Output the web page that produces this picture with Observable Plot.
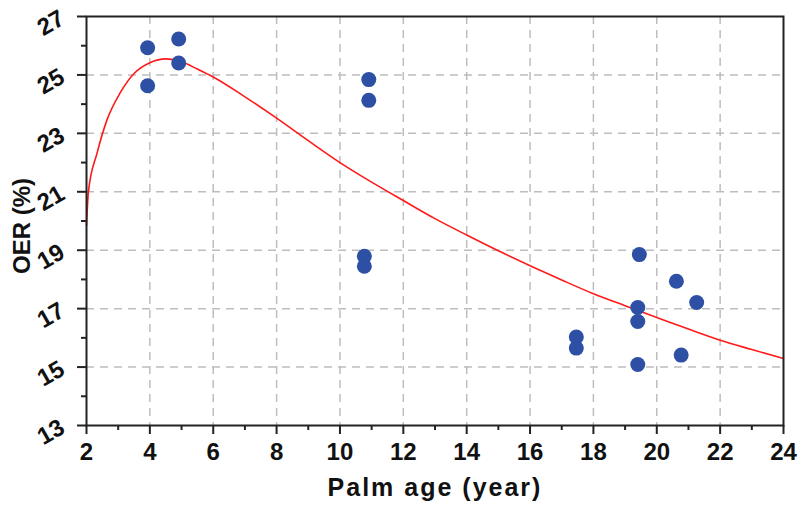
<!DOCTYPE html>
<html><head><meta charset="utf-8">
<script src="https://cdn.jsdelivr.net/npm/d3@7"></script>
<script src="https://cdn.jsdelivr.net/npm/@observablehq/plot@0.6"></script>
<style>body{margin:0;background:#fff}</style>
</head><body><div id="chart"></div>
<script>
// Observed points
const ageX = [3.93, 3.93, 4.91, 4.91, 10.91, 10.91, 10.77, 10.77, 17.46, 17.46, 19.45, 19.40, 19.40, 19.40, 20.62, 21.26, 20.77];
const oerY = [25.93, 24.63, 26.23, 25.41, 24.84, 24.13, 18.79, 18.45, 16.03, 15.65, 18.85, 17.04, 16.56, 15.09, 17.94, 17.21, 15.41];
// Fitted curve
const fitX = [2.0, 2.06, 2.34, 2.65, 3.07, 3.5, 4.0, 4.5, 5.0, 5.5, 6, 7, 8, 9, 10, 11, 12, 13, 14, 15, 16, 17, 18, 19, 20, 21, 22, 23, 24];
const fitY = [19.85, 21.0, 22.35, 23.47, 24.4, 25.05, 25.42, 25.55, 25.45, 25.2, 24.93, 24.25, 23.52, 22.75, 22.0, 21.33, 20.7, 20.08, 19.52, 18.98, 18.47, 17.98, 17.51, 17.1, 16.7, 16.3, 15.92, 15.6, 15.29];
// Ticks
const xMajor = [2, 4, 6, 8, 10, 12, 14, 16, 18, 20, 22, 24];
const xMinor = [3, 5, 7, 9, 11, 13, 15, 17, 19, 21, 23];
const yMajor = [13, 15, 17, 19, 21, 23, 25, 27];
const yMinor = [14, 16, 18, 20, 22, 24, 26];
const xGrid = [4, 6, 8, 10, 12, 14, 16, 18, 20, 22];
const yGrid = [15, 17, 19, 21, 23, 25];
const xTitle = "Palm age (year)";
const yTitle = "OER (%)";

const pts = ageX.map((x, i) => ({x, y: oerY[i]}));
const fit = fitX.map((x, i) => ({x, y: fitY[i]}));
const font = "'Liberation Sans', Arial, sans-serif";

const chart = Plot.plot({
  width: 811, height: 515,
  marginLeft: 86, marginRight: 28, marginTop: 16, marginBottom: 90,
  x: {domain: [2, 24]},
  y: {domain: [13, 27]},
  style: {fontFamily: font, fontWeight: "bold", color: "#111", background: "#fff"},
  marks: [
    Plot.ruleX(xGrid, {stroke: "#bdbdbd", strokeWidth: 1.5, strokeDasharray: "8,6"}),
    Plot.ruleY(yGrid, {stroke: "#bdbdbd", strokeWidth: 1.5, strokeDasharray: "8,6"}),
    Plot.line(fit, {x: "x", y: "y", stroke: "#ff1a1a", strokeWidth: 1.6, curve: "monotone-x"}),
    Plot.dot(pts, {x: "x", y: "y", r: 7.5, fill: "#2d50a5", stroke: "none"}),
    Plot.frame({stroke: "#222", strokeWidth: 2}),
    Plot.axisX({ticks: xMajor, tickSize: 9, tickPadding: 8, tickFormat: d => d, fontSize: 24, label: null, stroke: "#222", strokeWidth: 2}),
    Plot.axisX({ticks: xMinor, tickSize: 5, tickFormat: () => "", label: null, stroke: "#222", strokeWidth: 2}),
    Plot.axisY({ticks: yMajor, tickSize: 9, tickPadding: 15, tickFormat: d => d, tickRotate: -30, fontSize: 24, label: null, stroke: "#222", strokeWidth: 2}),
    Plot.axisY({ticks: yMinor, tickSize: 5, tickFormat: () => "", label: null, stroke: "#222", strokeWidth: 2}),
    Plot.text([xTitle], {frameAnchor: "bottom", textAnchor: "middle", dy: 70, fontSize: 25, fontWeight: "bold", fontFamily: font, fill: "#111"}),
    Plot.text([yTitle], {frameAnchor: "left", textAnchor: "middle", dx: -64, dy: 5, rotate: -90, fontSize: 24, fontWeight: "bold", fontFamily: font, fill: "#111"})
  ]
});
chart.querySelectorAll("text").forEach(t => {
  if (t.textContent === xTitle) t.style.letterSpacing = "2px";
});
document.getElementById("chart").appendChild(chart);
</script>
</body></html>
